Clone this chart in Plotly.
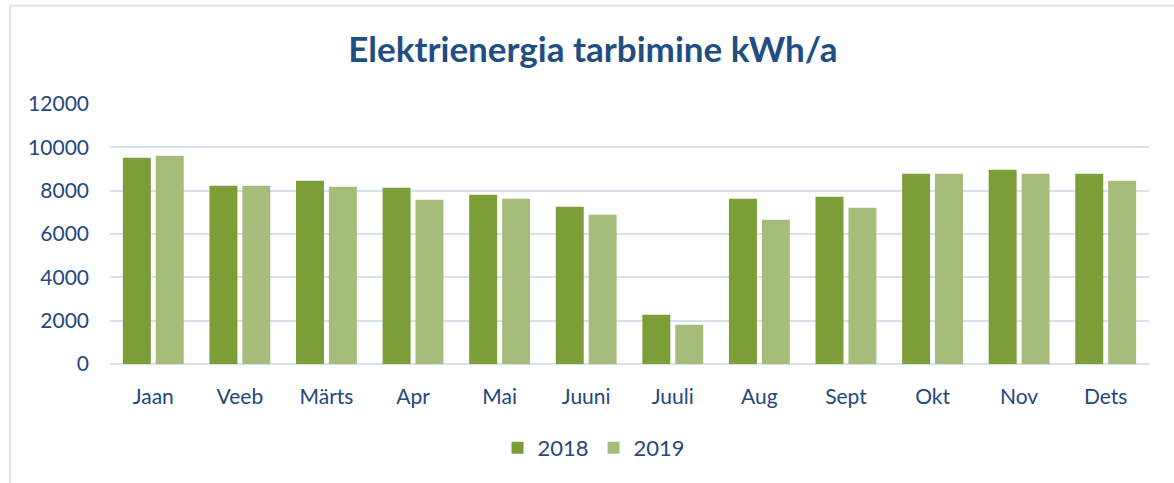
import plotly.graph_objects as go

months = ["Jaan", "Veeb", "Märts", "Apr", "Mai", "Juuni", "Juuli", "Aug", "Sept", "Okt", "Nov", "Dets"]
values_2018 = [9520, 8230, 8460, 8140, 7810, 7260, 2270, 7630, 7720, 8780, 8970, 8780]
values_2019 = [9610, 8230, 8180, 7580, 7630, 6890, 1810, 6660, 7210, 8780, 8780, 8460]
series_names = ["2018", "2019"]
y_ticks = [0, 2000, 4000, 6000, 8000, 10000, 12000]
y_tick_labels = [str(v) for v in y_ticks]

text_color = "#24487B"
grid_color = "#D6E1F0"
font_family = "Lato, Carlito, Open Sans, sans-serif"

fig = go.Figure()
fig.add_trace(go.Bar(x=months, y=values_2018, name=series_names[0],
                     marker=dict(color="#7C9E38", line=dict(width=0))))
fig.add_trace(go.Bar(x=months, y=values_2019, name=series_names[1],
                     marker=dict(color="#A5BC7B", line=dict(width=0))))

fig.update_layout(
    width=1174, height=483,
    margin=dict(l=110, r=25, t=104, b=119),
    paper_bgcolor="white", plot_bgcolor="white",
    font=dict(family=font_family, color=text_color, size=21),
    title=dict(text="<b>Elektrienergia tarbimine kWh/a</b>",
               x=0.505, xref="container", xanchor="center",
               y=1 - 50 / 483, yref="container", yanchor="middle",
               font=dict(size=35, color="#1F4E82", family=font_family)),
    barmode="group", bargap=0.24, bargroupgap=0.15,
    showlegend=True,
    legend=dict(orientation="h", x=0.506, xref="container", xanchor="center",
                y=1 - 448 / 483, yref="container", yanchor="middle",
                font=dict(size=22, color=text_color), itemwidth=30,
                traceorder="normal"),
    xaxis=dict(showgrid=False, showline=False, zeroline=False,
               ticks="", ticklabelstandoff=18, tickfont=dict(size=21)),
    yaxis=dict(range=[0, 12000], tickvals=y_ticks, ticktext=y_tick_labels,
               showgrid=True,
               gridcolor=grid_color, gridwidth=2, zeroline=True,
               zerolinecolor=grid_color, zerolinewidth=2, showline=False,
               ticks="", ticklabelstandoff=20, tickfont=dict(size=21)),
    shapes=[
        dict(type="line", xref="paper", yref="paper",
             x0=(10 - 110) / 1039, x1=(1180 - 110) / 1039,
             y0=(364 - 5.5) / 260, y1=(364 - 5.5) / 260,
             line=dict(color="#DAE4F3", width=2)),
        dict(type="line", xref="paper", yref="paper",
             x0=(10 - 110) / 1039, x1=(10 - 110) / 1039,
             y0=(364 - 5.5) / 260, y1=(364 - 490) / 260,
             line=dict(color="#DAE4F3", width=2)),
    ],
)

fig.write_html("out.html", config={"displayModeBar": False},
               post_script="document.body.style.margin='0';document.body.style.overflow='hidden';")
